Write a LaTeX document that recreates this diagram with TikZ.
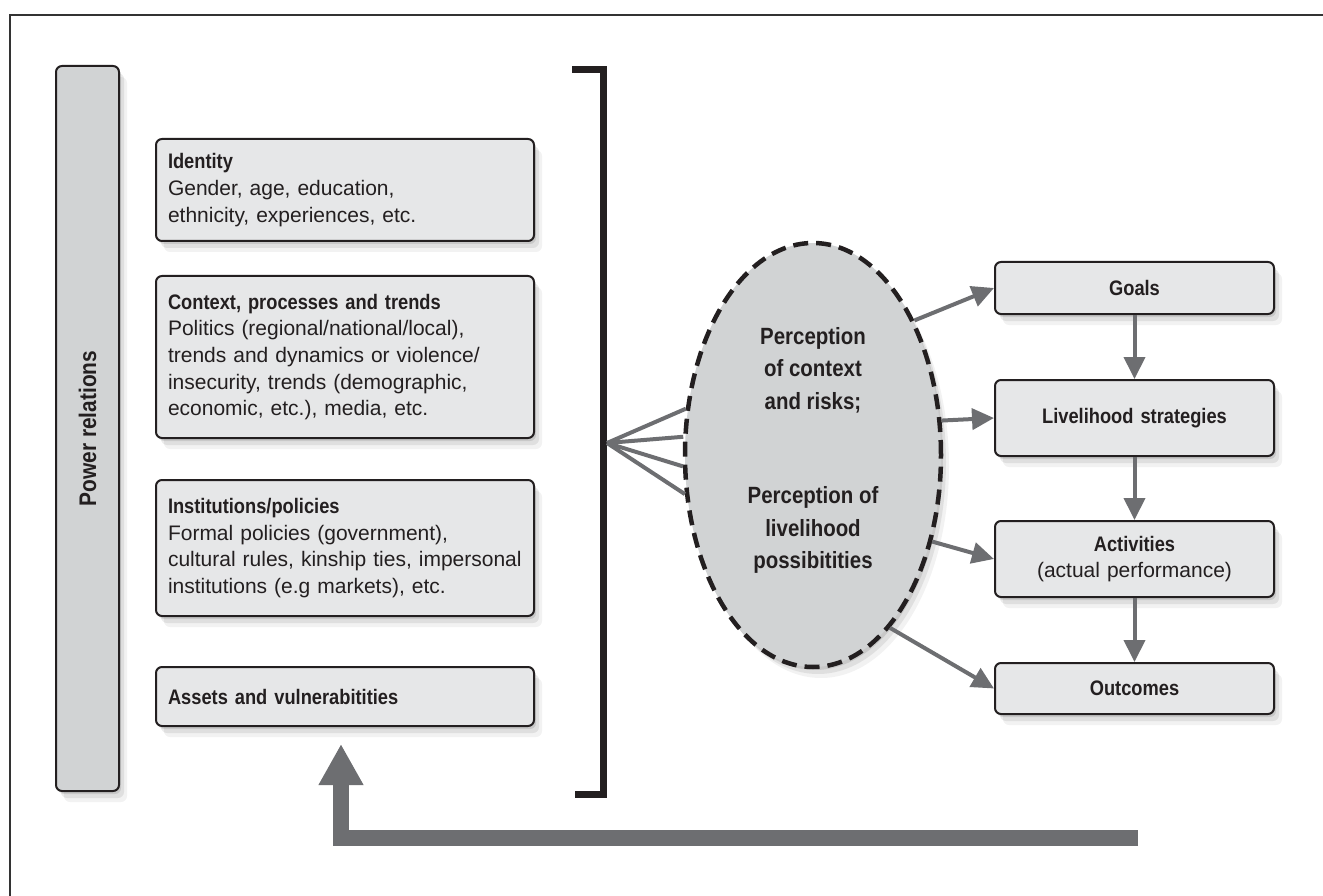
\documentclass[tikz,border=0pt]{standalone}
\usepackage{fontspec}
\setmainfont{Liberation Sans}
\newfontfamily\cond{Liberation Sans}[FakeStretch=0.87]
\usetikzlibrary{arrows.meta,shapes.geometric,shadows,calc}
\definecolor{boxfill}{HTML}{E6E7E8}
\definecolor{darkfill}{HTML}{D1D3D4}
\definecolor{arrowgray}{HTML}{6D6E71}
\definecolor{ink}{HTML}{231F20}
\newcommand\ttl[1]{{\cond\bfseries\fontsize{21}{26.7}\selectfont #1}}
\begin{document}
\begin{tikzpicture}[x=1pt,y=-1pt,
  shadowed/.style={drop shadow={shadow xshift=2pt,shadow yshift=-3pt,opacity=.10,fill=black},
                   drop shadow={shadow xshift=5pt,shadow yshift=-7pt,opacity=.08,fill=black},
                   drop shadow={shadow xshift=8pt,shadow yshift=-11pt,opacity=.05,fill=black}},
  lbox/.style={shadowed, draw=ink, line width=2pt, fill=boxfill, rounded corners=6pt,
               anchor=north west, minimum width=378pt, text width=354pt, inner xsep=12pt,
               inner ysep=0pt, align=left, font=\fontsize{21}{26.7}\selectfont, text=ink},
  rbox/.style={shadowed, draw=ink, line width=2pt, fill=boxfill, rounded corners=6pt,
               anchor=north west, minimum width=279pt, text width=260pt, inner xsep=9pt,
               inner ysep=0pt, align=center, font=\fontsize{21}{26.7}\selectfont, text=ink},
  garrow/.style={draw=arrowgray, line width=4pt, -{Triangle[length=22pt,width=21pt]}},
  fan/.style={draw=arrowgray, line width=4pt},
  elltext/.style={font=\cond\bfseries\fontsize{23.5}{32.5}\selectfont, align=center, text=ink}
]
\useasboundingbox (0,0) rectangle (1323,896);
% frame
\draw[line width=2pt, color=black!80] (10,896) -- (10,15) -- (1323,15);

% power relations
\node[shadowed, draw=ink, line width=2pt, fill=darkfill, rounded corners=6pt, anchor=north west,
      minimum width=63pt, minimum height=725pt, inner sep=0pt] (power) at (55,65) {};
\node[rotate=90, font=\cond\bfseries\fontsize{24}{26}\selectfont, text=ink] (powertext) at (power.center) {Power relations};

% left boxes
\node[lbox, minimum height=102pt] (identity) at (155,138)
  {\ttl{Identity}\\Gender, age, education,\\ethnicity, experiences, etc.};
\node[lbox, minimum height=162pt] (context) at (155,275)
  {\ttl{Context, processes and trends}\\Politics (regional/national/local),\\trends and dynamics or violence/\\insecurity, trends (demographic,\\economic, etc.), media, etc.};
\node[lbox, minimum height=136pt] (institutions) at (155,479)
  {\ttl{Institutions/policies}\\Formal policies (government),\\\mbox{cultural rules, kinship ties, impersonal}\\institutions (e.g markets), etc.};
\node[lbox, minimum height=59pt] (assets) at (155,666)
  {\ttl{Assets and vulnerabitities}};

% bracket
\draw[ink, line width=7pt] (572,70) -- (603.5,70) -- (603.5,794.5) -- (575,794.5);
\coordinate (apex) at (607,443);

% ellipse
\node[ellipse, shadowed, draw=ink, fill=darkfill, line width=4.5pt, dash pattern=on 15pt off 8pt,
      minimum width=256pt, minimum height=424pt, inner sep=0pt] (ell) at (813,455) {};
\node[elltext] (p1) at (813,370) {Perception\\of context\\and risks;};
\node[elltext] (p2) at (813,530) {Perception of\\livelihood\\possibitities};

% fan
\draw[fan] (apex) -- (ell.160.2);
\draw[fan] (apex) -- (ell.172.9);
\draw[fan] (apex) -- (ell.185.4);
\draw[fan] (apex) -- (ell.197.7);

% right boxes
\node[rbox, minimum height=52pt] (goals) at (994,261) {\ttl{Goals}};
\node[rbox, minimum height=76pt] (livelihood) at (994,379) {\ttl{Livelihood strategies}};
\node[rbox, minimum height=76pt] (activities) at (994,520) {\ttl{Activities}\\(actual performance)};
\node[rbox, minimum height=51pt] (outcomes) at (994,662) {\ttl{Outcomes}};

% arrows from ellipse
\draw[garrow] (ell.53.9) -- (goals.west);
\draw[garrow] (ell.15.5) -- (livelihood.west);
\draw[garrow] (ell.-36.7) -- (activities.west);
\draw[garrow] (ell.-66.5) -- (outcomes.west);

% vertical arrows
\draw[garrow] (goals.south) -- (livelihood.north);
\draw[garrow] (livelihood.south) -- (activities.north);
\draw[garrow] (activities.south) -- (outcomes.north);

% feedback arrow
\coordinate (fb) at (1138,838);
\draw[draw=arrowgray, line width=16pt, -{Triangle[length=41pt,width=42pt]}]
  (fb) -| ($(assets.south)+(-4,17)$);
\end{tikzpicture}
\end{document}
